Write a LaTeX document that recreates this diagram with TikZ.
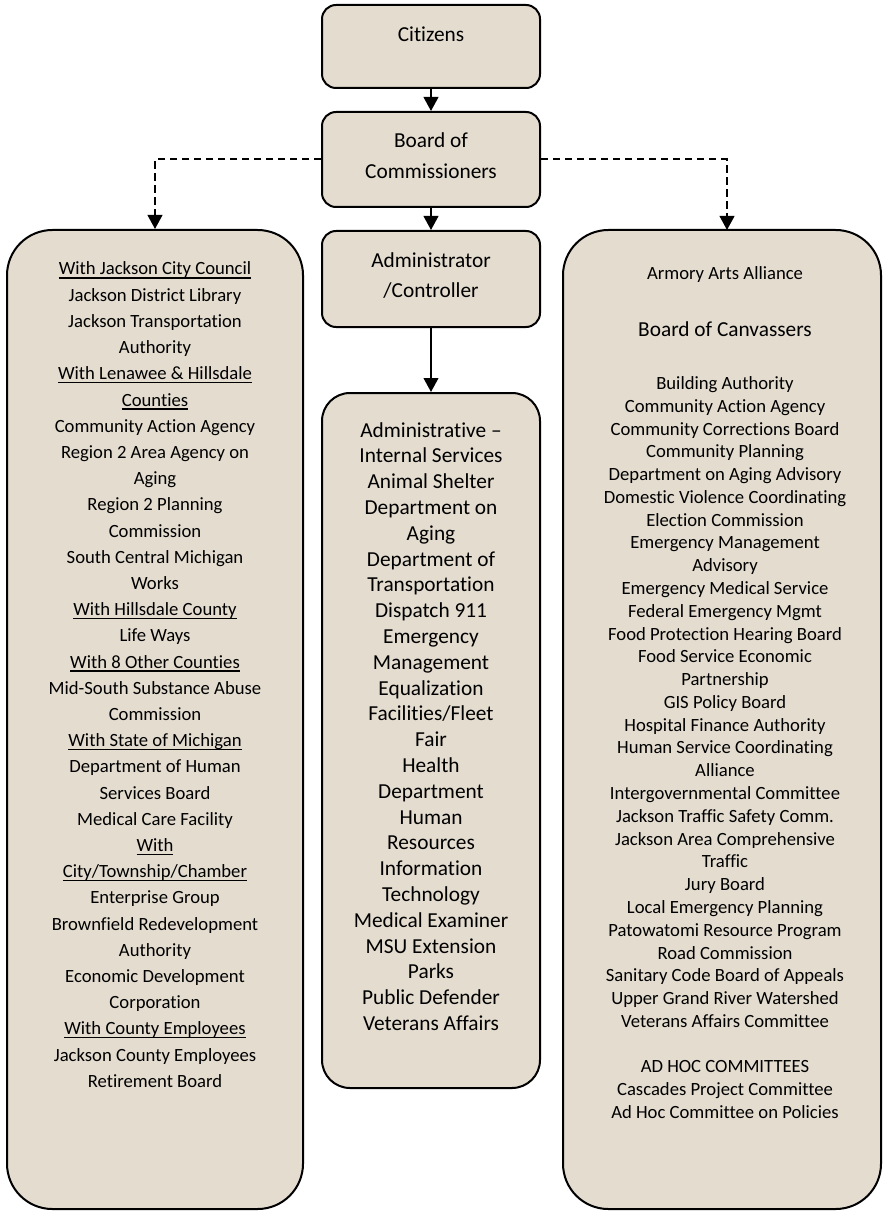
\documentclass[tikz,border=0pt]{standalone}
\usepackage{fontspec}
\setmainfont{Carlito}[Ligatures={TeX,NoCommon}]
\usetikzlibrary{arrows.meta}
\newlength\pxu \setlength\pxu{0.75pt}
\newsavebox\ulbox
\newcommand\uln[1]{\sbox\ulbox{#1}\rlap{\vrule width\wd\ulbox height -1.6pt depth 2.7pt}\usebox\ulbox}
\definecolor{parch}{RGB}{227,220,207}
\begin{document}
\begin{tikzpicture}[x=0.75pt,y=-0.75pt,
  box/.style={draw=black, line width=1.5pt, fill=parch, inner sep=0pt, rounded corners=10.5pt},
  bigbox/.style={box, rounded corners=34pt},
  midbox/.style={box, rounded corners=21pt},
  txt/.style={anchor=base, inner sep=0pt, font=\fontsize{14}{17}\selectfont},
  txtl/.style={anchor=base, inner sep=0pt, font=\fontsize{16}{19}\selectfont},
  conn/.style={line width=1.5pt, -{Triangle[length=10.5pt,width=11pt]}},
  dconn/.style={conn, dash pattern=on 5.5pt off 3.5pt}]
\useasboundingbox (0,0) rectangle (883,1212);

% boxes
\node[box, minimum width=218\pxu, minimum height=83\pxu] (cit) at (431,46.5) {};
\node[box, minimum width=218\pxu, minimum height=95\pxu] (board) at (431,159.5) {};
\node[box, minimum width=218\pxu, minimum height=96\pxu] (admin) at (431,279) {};
\node[midbox, minimum width=218\pxu, minimum height=695\pxu] (mid) at (431,740.5) {};
\node[bigbox, minimum width=296\pxu, minimum height=979\pxu] (left) at (155,719.5) {};
\node[bigbox, minimum width=318\pxu, minimum height=979\pxu] (right) at (722,719.5) {};
\coordinate (rtop) at (727,230);

% top texts
\node[txtl] (citt) at (431,42) {Citizens};
\node[txtl] (bt1) at (431,148) {Board of};
\node[txtl] (bt2) at (431,178.5) {Commissioners};
\node[txtl] (at1) at (431,268) {Administrator};
\node[txtl] (at2) at (431,297) {/Controller};

% connectors
\draw[conn] (cit.south) -- (board.north);
\draw[conn] (board.south) -- (admin.north);
\draw[conn] (admin.south) -- (mid.north);
\draw[dconn] (board.west) -| (left.north);
\draw[dconn] (board.east) -| (rtop);

% left list
\foreach \t [count=\i from 0] in {
 \uln{With Jackson City Council},
 Jackson District Library,
 Jackson Transportation,
 Authority,
 \uln{With Lenawee \& Hillsdale},
 \uln{Counties},
 Community Action Agency,
 Region 2 Area Agency on,
 Aging,
 Region 2 Planning,
 Commission,
 South Central Michigan,
 Works,
 \uln{With Hillsdale County},
 Life Ways,
 \uln{With 8 Other Counties},
 Mid-South Substance Abuse,
 Commission,
 \uln{With State of Michigan},
 Department of Human,
 Services Board,
 Medical Care Facility,
 \uln{With},
 \uln{City/Township/Chamber},
 Enterprise Group,
 Brownfield Redevelopment,
 Authority,
 Economic Development,
 Corporation,
 \uln{With County Employees},
 Jackson County Employees,
 Retirement Board}
 \node[txt] (l\i) at (155,{275+26.2*\i}) {\t};

% middle list
\foreach \t [count=\i from 0] in {
 Administrative --,
 Internal  Services,
 Animal Shelter,
 Department on,
 Aging,
 Department of,
 Transportation,
 Dispatch 911,
 Emergency,
 Management,
 Equalization,
 Facilities/Fleet,
 Fair,
 Health,
 Department,
 Human,
 Resources,
 Information,
 Technology,
 Medical Examiner,
 MSU Extension,
 Parks,
 Public Defender,
 Veterans Affairs}
 \node[txtl] (m\i) at (431,{437+25.8*\i}) {\t};

% right list
\node[txt] (r0a) at (725,279.5) {Armory Arts Alliance};
\node[txtl] (r0b) at (725,336) {Board of Canvassers};
\foreach \t [count=\i from 0] in {
 Building Authority,
 Community Action Agency,
 Community Corrections Board,
 Community Planning,
 Department on Aging Advisory,
 Domestic Violence Coordinating,
 Election Commission,
 Emergency Management,
 Advisory,
 Emergency Medical Service,
 Federal Emergency Mgmt,
 Food Protection Hearing Board,
 Food Service Economic,
 Partnership,
 GIS Policy Board,
 Hospital Finance Authority,
 Human Service Coordinating,
 Alliance,
 Intergovernmental Committee,
 Jackson Traffic Safety Comm.,
 Jackson Area Comprehensive,
 Traffic,
 Jury Board,
 Local Emergency Planning,
 Patowatomi Resource Program,
 Road Commission,
 Sanitary Code Board of Appeals,
 Upper Grand River Watershed,
 Veterans Affairs Committee}
 \node[txt] (r\i) at (725,{389.5+22.78*\i}) {\t};
\foreach \t [count=\i from 30] in {
 AD HOC COMMITTEES,
 Cascades Project Committee,
 Ad Hoc Committee on Policies}
 \node[txt] (r\i) at (725,{389.5+22.78*\i}) {\t};
\end{tikzpicture}
\end{document}
